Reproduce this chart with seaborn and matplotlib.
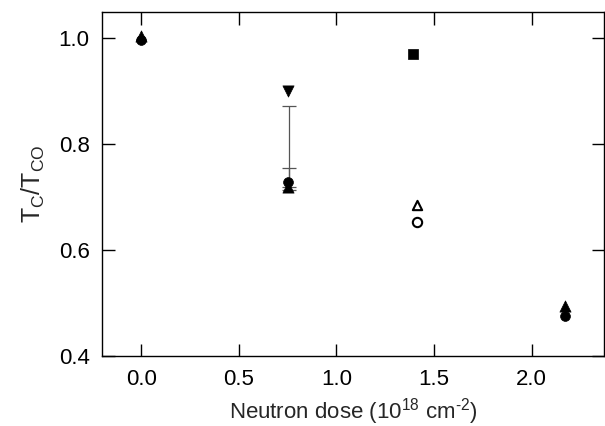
import matplotlib
matplotlib.use("Agg")
import matplotlib.pyplot as plt
import seaborn as sns
import pandas as pd

# data
circ_x = [0.0, 0.75, 2.17]
circ_y = [0.998, 0.728, 0.476]
tri_x = [0.0, 0.75, 2.17]
tri_y = [1.004, 0.720, 0.495]
tdown_x = [0.75]
tdown_y = [0.900]
sq_x = [1.39]
sq_y = [0.970]
otri_x = [1.41]
otri_y = [0.686]
ocirc_x = [1.41]
ocirc_y = [0.653]
# error bars (x, center, lower, upper)
err_x = [0.757, 0.757]
err_c = [0.728, 0.720]
err_lo = [0.713, 0.720]
err_hi = [0.755, 0.873]

xticks = [0.0, 0.5, 1.0, 1.5, 2.0]
yticks = [0.4, 0.6, 0.8, 1.0]

sns.set_style("ticks")
plt.rcParams['font.family'] = ['Liberation Sans', 'DejaVu Sans']
plt.rcParams['mathtext.fontset'] = 'custom'
plt.rcParams['mathtext.rm'] = 'Liberation Sans'
plt.rcParams['mathtext.it'] = 'Liberation Sans'
plt.rcParams['axes.unicode_minus'] = False

fig = plt.figure(figsize=(6.05, 4.26), dpi=100)
ax = fig.add_axes([0.1686, 0.1643, 0.8298, 0.8075])

for x, c, lo, hi in zip(err_x, err_c, err_lo, err_hi):
    ax.errorbar([x], [c], yerr=[[c - lo], [hi - c]], fmt='none',
                ecolor='#555555', elinewidth=0.9, capsize=5, capthick=0.9, zorder=1)

def pts(x, y, marker, filled, size):
    df = pd.DataFrame({"x": x, "y": y})
    sns.scatterplot(data=df, x="x", y="y", ax=ax, marker=marker, s=size,
                    color='black' if filled else 'white',
                    edgecolor='black', linewidth=1.5 if not filled else 0.5,
                    zorder=3, legend=False)

pts(circ_x, circ_y, 'o', True, 50)
pts(tri_x, tri_y, '^', True, 65)
pts(tdown_x, tdown_y, 'v', True, 65)
pts(sq_x, sq_y, 's', True, 45)
pts(otri_x, otri_y, '^', False, 45)
pts(ocirc_x, ocirc_y, 'o', False, 45)

ax.set_xlim(-0.2, 2.37)
ax.set_ylim(0.4, 1.05)
ax.set_xticks(xticks)
ax.set_yticks(yticks)
ax.set_xticklabels([f"{v:.1f}" for v in xticks])
ax.set_yticklabels([f"{v:.1f}" for v in yticks])
ax.tick_params(direction='in', length=9, width=1, labelsize=16, pad=9,
               top=True, right=True, colors='black')
for s in ax.spines.values():
    s.set_visible(True)
    s.set_linewidth(1.0)
    s.set_color('black')
ax.set_xlabel(r"Neutron dose (10$^{18}$ cm$^{\text{-2}}$)", fontsize=16, labelpad=5)
ax.set_ylabel(r"T$_{\mathrm{C}}$/T$_{\mathrm{CO}}$", fontsize=18, labelpad=8)

fig.savefig("out.png", dpi=100)
